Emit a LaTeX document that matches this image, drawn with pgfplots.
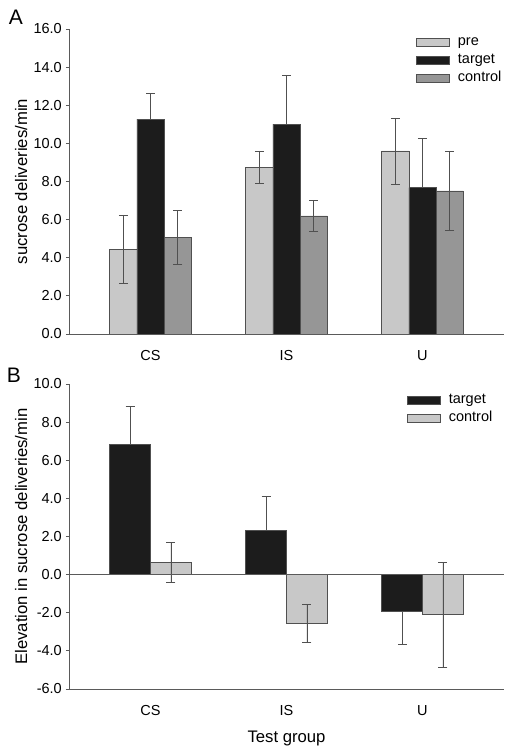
\documentclass[border=0pt]{standalone}
\usepackage{pgfplots}
\pgfplotsset{compat=1.18}
\usepackage{fontspec}
\setmainfont{Liberation Sans}
\definecolor{lightbar}{HTML}{C8C8C8}
\definecolor{darkbar}{HTML}{1C1C1C}
\definecolor{midbar}{HTML}{969696}
\definecolor{edgec}{HTML}{505050}
\definecolor{axc}{HTML}{5A5A5A}
\pgfplotsset{
 myaxis/.style={
  scale only axis, width=435pt, height=305pt,
  xmin=-0.6, xmax=2.6,
  xtick={0,1,2}, xticklabels={CS,IS,U},
  axis x line*=bottom, axis y line*=left,
  axis line style={axc, line width=0.8pt, -},
  tick align=outside, major tick length=3pt,
  ytick style={axc, line width=0.8pt},
  xtick style={draw=none},
  /pgf/number format/assume math mode=true,
  tick label style={font=\fontsize{14.5}{16}\selectfont},
  yticklabel style={/pgf/number format/fixed, /pgf/number format/fixed zerofill, /pgf/number format/precision=1, anchor=east, inner sep=0pt, xshift=-4pt},
  xticklabel style={anchor=base, inner sep=0pt, yshift=-23.5pt},
  label style={font=\fontsize{16.7}{19}\selectfont},
  ylabel style={at={(axis description cs:-0.110,0.5)}, anchor=center},
  legend style={draw=none, fill=none, inner sep=0pt, font=\fontsize{14.5}{16}\selectfont,
    nodes={inner sep=0pt, anchor=west, text height=10.5pt, text depth=3pt}, row sep=4.5pt},
  legend cell align=left,
 },
 mybar/.style={ybar, bar shift=0, draw=edgec, line width=0.6pt,
  legend image code/.code={\draw[##1] (0pt,-4pt) rectangle (33pt,4pt); \path (41pt,0pt);},
  error bars/.cd, y dir=both, y explicit, error mark=-,
  error bar style={edgec, line width=0.6pt},
  error mark options={edgec, line width=0.6pt, mark size=4.5pt, rotate=90},
  /pgfplots/.cd},
}
\begin{document}
\begin{tikzpicture}
\useasboundingbox (0pt,0pt) rectangle (512pt,752pt);
\begin{axis}[myaxis, at={(69pt,418pt)}, anchor=south west,
  ymin=0, ymax=16, ytick={0,2,...,16},
  ylabel={sucrose deliveries/min},
  legend style={at={(rel axis cs:0.798,0.980)}, anchor=north west}]
% pre
\addplot[mybar, fill=lightbar, bar width=0.2] coordinates {
 (-0.2,4.45) +- (0,1.80) (0.8,8.75) +- (0,0.86) (1.8,9.60) +- (0,1.74)};
% target (lower half of the error bar hidden in the black bar)
\addplot[mybar, fill=darkbar, bar width=0.2] coordinates {
 (0,11.27) += (0,1.35) -= (0,0) (1,11.01) += (0,2.54) -= (0,0) (2,7.68) += (0,2.57) -= (0,0)};
% control
\addplot[mybar, fill=midbar, bar width=0.2] coordinates {
 (0.2,5.08) +- (0,1.42) (1.2,6.20) +- (0,0.80) (2.2,7.51) +- (0,2.09)};
\legend{pre,target,control}
\end{axis}
\begin{axis}[myaxis, at={(69pt,63pt)}, anchor=south west,
  ymin=-6, ymax=10, ytick={-6,-4,...,10},
  ylabel={Elevation in sucrose deliveries/min},
  xlabel={Test group},
  xlabel style={at={(axis description cs:0.5,-0.174)}, anchor=base},
  legend style={at={(rel axis cs:0.777,0.9695)}, anchor=north west, row sep=4.2pt}]
% target
\addplot[mybar, fill=darkbar, bar width=0.3] coordinates {
 (-0.15,6.82) += (0,2.00) -= (0,0) (0.85,2.30) += (0,1.80) -= (0,0) (1.85,-1.91) += (0,0) -= (0,1.74)};
% control
\addplot[mybar, fill=lightbar, bar width=0.3] coordinates {
 (0.15,0.65) +- (0,1.03) (1.15,-2.54) +- (0,1.00) (2.15,-2.10) +- (0,2.76)};
\addplot[axc, line width=0.8pt, forget plot] coordinates {(-0.6,0) (2.6,0)};
\legend{target,control}
\end{axis}
\node[font=\fontsize{21}{24}\selectfont] at (16pt,734.5pt) {A};
\node[font=\fontsize{21}{24}\selectfont] at (14pt,376.5pt) {B};
\end{tikzpicture}
\end{document}
